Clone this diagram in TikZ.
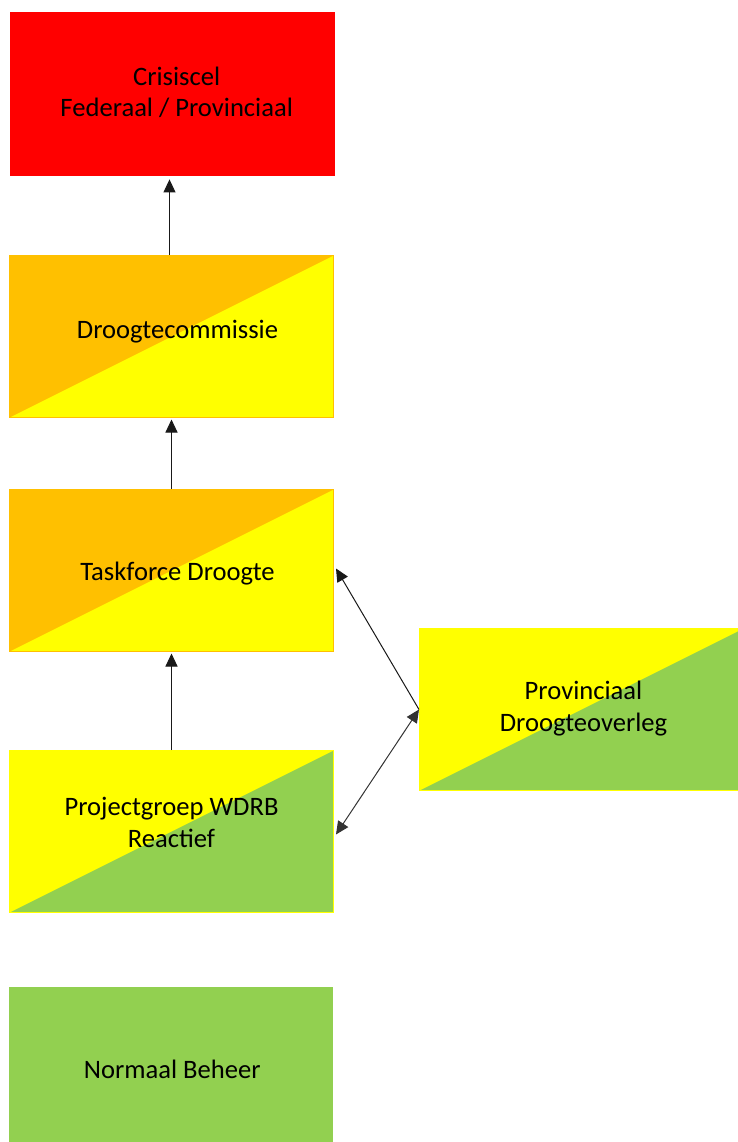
\documentclass[tikz,border=0pt]{standalone}
\usepackage{fontspec}
\setmainfont{Carlito}
\usetikzlibrary{arrows.meta}
\definecolor{cred}{HTML}{FF0000}
\definecolor{corange}{HTML}{FFC000}
\definecolor{cyellow}{HTML}{FFFF00}
\definecolor{cgreen}{HTML}{92D050}
\begin{document}
\begin{tikzpicture}[x=1pt,y=-1pt,
  box/.style={rectangle, minimum width=324pt, minimum height=162pt, inner sep=0pt, anchor=north west},
  txt/.style={align=center, inner sep=0pt, font=\fontsize{26.6}{31.7}\selectfont},
  split/.style 2 args={fill=#2, path picture={\fill[#1] (path picture bounding box.south west) -- (path picture bounding box.north east) -- (path picture bounding box.north west) -- cycle;}},
  arr/.style={line width=1pt, draw=black!90, -{Triangle[width=12pt,length=13pt]}},
  darr/.style={line width=1pt, draw=black!80, {Triangle[width=12pt,length=13pt]}-{Triangle[width=12pt,length=13pt]}}
]
\useasboundingbox (0,0) rectangle (737,1142);
\node[box, fill=cred, minimum width=325pt, minimum height=164pt] (crisis) at (10,12) {};
\node[box, split={corange}{cyellow}, draw=corange, line width=1pt] (droog) at (9,255) {};
\node[box, split={corange}{cyellow}, draw=corange, line width=1pt] (task) at (9,489) {};
\node[box, split={cyellow}{cgreen}, draw=cyellow, line width=1pt] (proj) at (9,750) {};
\node[box, fill=cgreen] (normaal) at (9,987) {};
\node[box, split={cyellow}{cgreen}, draw=cyellow, line width=1pt] (prov) at (419,628) {};
\node[txt] (crisist) at ([xshift=4pt,yshift=2pt]crisis.center) {Crisiscel\\Federaal / Provinciaal};
\node[txt] (droogt) at ([xshift=6pt,yshift=5pt]droog.center) {Droogtecommissie};
\node[txt] (taskt) at ([xshift=6pt,yshift=-3pt]task.center) {Taskforce Droogte};
\node[txt] (projt) at ([xshift=0pt,yshift=9pt]proj.center) {Projectgroep WDRB\\Reactief};
\node[txt] (normaalt) at ([xshift=1pt,yshift=-1pt]normaal.center) {Normaal Beheer};
\node[txt] (provt) at ([xshift=2pt,yshift=1pt]prov.center) {Provinciaal\\Droogteoverleg};
\coordinate (ca) at ([xshift=-2pt]droog.north);
\draw[arr, shorten >=3pt] (ca) -- (ca |- crisis.south);
\draw[arr, shorten >=1.5pt] (task.north) -- (droog.south);
\draw[arr, shorten >=1.5pt] (proj.north) -- (task.south);
\draw[arr] (prov.west) -- ([xshift=2pt,yshift=2pt]task.east);
\draw[darr] ([xshift=2pt,yshift=-3pt]proj.east) -- (prov.west);
\end{tikzpicture}
\end{document}
